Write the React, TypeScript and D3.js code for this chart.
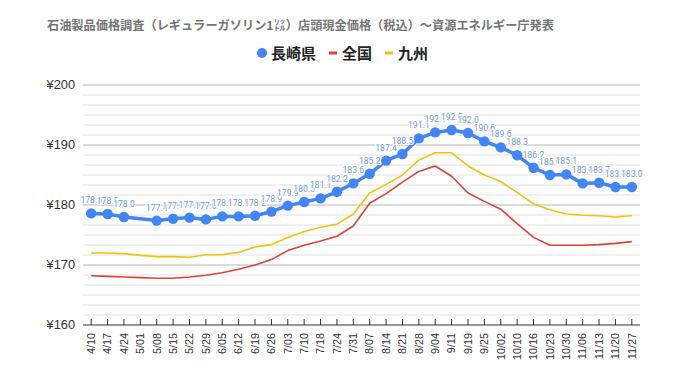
import React from "react";
import * as d3 from "d3";

const dates = ["4/10","4/17","4/24","5/01","5/08","5/15","5/22","5/29","6/05","6/12","6/19","6/26","7/03","7/10","7/18","7/24","7/31","8/07","8/14","8/21","8/28","9/04","9/11","9/19","9/25","10/02","10/10","10/16","10/23","10/30","11/06","11/13","11/20","11/27"];
const nagasaki: (number | null)[] = [178.6,178.5,178.0,null,177.4,177.7,177.9,177.6,178.1,178.1,178.2,178.9,179.9,180.5,181.1,182.2,183.6,185.2,187.4,188.5,191.1,192.1,192.5,192.0,190.6,189.6,188.3,186.2,185.0,185.1,183.6,183.7,183.0,183.0];
const zenkoku = [168.2,168.1,168.0,167.9,167.8,167.8,168.0,168.3,168.7,169.3,170.0,170.9,172.4,173.3,174.0,174.8,176.5,180.3,181.9,183.8,185.6,186.5,184.8,182.0,180.6,179.3,176.9,174.6,173.3,173.3,173.3,173.4,173.6,173.9];
const kyushu = [172.0,172.0,171.9,171.6,171.4,171.4,171.3,171.7,171.7,172.1,173.0,173.4,174.6,175.6,176.3,176.8,178.5,182.0,183.4,185.0,187.5,188.7,188.7,186.5,185.0,183.9,182.1,180.2,179.2,178.5,178.3,178.2,178.0,178.2];
const yTicks = [160, 170, 180, 190, 200];
const yTickLabels = ["¥160", "¥170", "¥180", "¥190", "¥200"];
const title = "石油製品価格調査（レギュラーガソリン1㍑）店頭現金価格（税込）～資源エネルギー庁発表";
const seriesNames = ["長崎県", "全国", "九州"];

const BLUE = "#4285f4";
const RED = "#db4437";
const YELLOW = "#f4c20d";
const LABEL = "#6f9be6";

export default function App() {
  const W = 680, H = 382;
  const left = 83, right = 640, top = 85, bottom = 325;
  const x = d3.scalePoint<string>().domain(dates).range([left, right]).padding(0.5);
  const y = d3.scaleLinear().domain([160, 200]).range([bottom, top]);

  const minor: number[] = [];
  for (let k = 1; k < 24; k++) if (k % 6 !== 0) minor.push(200 - (k * 10) / 6);

  type P = { d: string; v: number };
  const line = d3.line<P>().x(p => x(p.d)!).y(p => y(p.v));
  const nagPts: P[] = dates.map((d, i) => ({ d, v: nagasaki[i] as number })).filter((p, i) => nagasaki[i] != null);
  const zenPts: P[] = dates.map((d, i) => ({ d, v: zenkoku[i] }));
  const kyuPts: P[] = dates.map((d, i) => ({ d, v: kyushu[i] }));

  const sans = "'Liberation Sans', Arial, sans-serif";
  const lab = "Roboto, 'Liberation Sans', Arial, sans-serif";
  const cjk = "'Noto Sans CJK JP', 'Noto Sans', sans-serif";

  return (
    <svg width={W} height={H} style={{ position: "absolute", left: 0, top: 0, background: "#fff" }}>
      <rect width={W} height={H} fill="#fff" />
      <text x={47} y={30} fontFamily={cjk} fontSize={12.2} fontWeight={700} fill="#757575">{title}</text>
      {/* legend */}
      <g fontFamily={cjk} fontSize={15} fontWeight={700} fill="#222">
        <circle cx={262} cy={53} r={5} fill={BLUE} />
        <text x={271} y={58.5}>{seriesNames[0]}</text>
        <rect x={329} y={51.5} width={8} height={3} fill={RED} />
        <text x={342} y={58.5}>{seriesNames[1]}</text>
        <rect x={385} y={51.5} width={8} height={3} fill={YELLOW} />
        <text x={398} y={58.5}>{seriesNames[2]}</text>
      </g>
      {/* gridlines */}
      {minor.map(v => (
        <line key={"m" + v} x1={left} x2={right} y1={y(v)} y2={y(v)} stroke="#e2e2e2" strokeWidth={1} />
      ))}
      {yTicks.slice(1).map(v => (
        <line key={"g" + v} x1={left} x2={right} y1={y(v)} y2={y(v)} stroke="#b7b7b7" strokeWidth={1} />
      ))}
      {yTicks.map((v, i) => (
        <text key={"yl" + v} x={75} y={y(v)} dy="0.35em" textAnchor="end" fontFamily={sans} fontSize={12.8} fill="#333">{yTickLabels[i]}</text>
      ))}
      {/* x axis */}
      <line x1={left} x2={right} y1={bottom} y2={bottom} stroke="#333" strokeWidth={1} />
      {dates.map(d => (
        <g key={"xt" + d}>
          <line x1={x(d)!} x2={x(d)!} y1={bottom - 6} y2={bottom} stroke="#333" strokeWidth={1} />
          <text transform={`translate(${x(d)},${bottom + 8}) rotate(-90)`} dy="0.35em" textAnchor="end" fontFamily={sans} fontSize={10.8} fill="#333">{d}</text>
        </g>
      ))}
      {/* series */}
      <path d={line(zenPts)!} fill="none" stroke={RED} strokeWidth={1.6} strokeLinejoin="round" />
      <path d={line(kyuPts)!} fill="none" stroke={YELLOW} strokeWidth={1.6} strokeLinejoin="round" />
      <path d={line(nagPts)!} fill="none" stroke={BLUE} strokeWidth={3.5} strokeLinejoin="round" />
      {nagPts.map(p => (
        <circle key={"c" + p.d} cx={x(p.d)!} cy={y(p.v)} r={5.2} fill={BLUE} />
      ))}
      {nagPts.map(p => (
        <text key={"t" + p.d} x={x(p.d)!} y={y(p.v) - 10} textAnchor="middle" fontFamily={lab} fontSize={8.6}
          fill={LABEL} stroke="#fff" strokeWidth={2} paintOrder="stroke">{p.v.toFixed(1)}</text>
      ))}
    </svg>
  );
}
